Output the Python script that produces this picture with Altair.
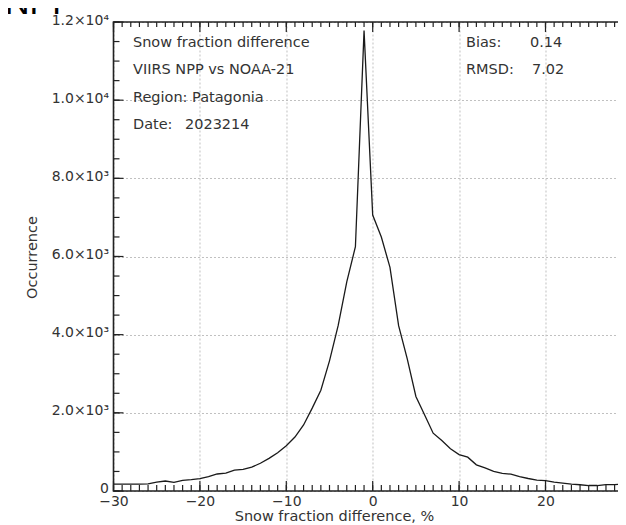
import altair as alt
import pandas as pd

# ---- data ----
diff_pct = list(range(-30, 31))
occurrence = [
    175, 175, 175, 175, 180, 225, 255, 222, 270, 290,      # -30 .. -21
    315, 365, 435, 455, 535, 555, 610, 710, 835, 980,      # -20 .. -11
    1160, 1380, 1690, 2120, 2580, 3330, 4230, 5350, 6250, 11780,  # -10 .. -1
    7060,                                                  # 0
    6500, 5720, 4230, 3380, 2420, 1950, 1480, 1290, 1080, 930,    # 1 .. 10
    865, 670, 590, 500, 450, 430, 370, 320, 280, 265,      # 11 .. 20
    225, 200, 175, 160, 140, 140, 165, 165, 170, 170,      # 21 .. 30
]
x_major_ticks = list(range(-30, 31, 10))
x_minor_ticks = list(range(-30, 31, 1))
y_major_ticks = list(range(0, 12001, 2000))
y_minor_ticks = list(range(0, 12001, 500))

left_notes = ["Snow fraction difference", "VIIRS NPP vs NOAA-21", "Region: Patagonia", "Date:"]
date_value = "2023214"
stat_names = ["Bias:", "RMSD:"]
stat_values = ["0.14", "7.02"]
clipped_title = "NPP"

# ---- layout / style ----
W, H = 518.4, 469
FONT = "DejaVu Sans"
INK = "#222222"
TXT = "#333333"
FS = 14.5

xs = alt.Scale(domain=[-30, 30], nice=False, zero=False)
ys = alt.Scale(domain=[0, 12000], nice=False, zero=False)

df = pd.DataFrame({"d": diff_pct, "n": occurrence})

y_label_expr = (
    "datum.value == 0 ? '0' : (datum.value >= 10000 ? "
    "format(datum.value / 10000, '.1f') + '×10⁴' : "
    "format(datum.value / 1000, '.1f') + '×10³')"
)

x_axis = alt.Axis(
    values=x_major_ticks, grid=True, ticks=False, domain=False,
    gridDash=[2, 2], gridColor="#c0c0c0", gridWidth=1,
    labelFont=FONT, labelFontSize=14, labelColor=TXT, labelPadding=4,
    labelFlush=False, labelOverlap=False, labelBound=False,
    title="Snow fraction difference, %", titleFont=FONT, titleFontSize=FS,
    titleFontWeight="normal", titleColor=TXT,
    titleX=220.5, titleY=26, titleBaseline="middle", titleAlign="center",
)
y_axis = alt.Axis(
    values=y_major_ticks, grid=True, ticks=False, domain=False,
    gridDash=[2, 2], gridColor="#c0c0c0", gridWidth=1,
    labelFont=FONT, labelFontSize=14, labelColor=TXT, labelPadding=5,
    labelOffset=-2,
    labelFlush=False, labelOverlap=False, labelBound=False,
    labelExpr=y_label_expr,
    title="Occurrence", titleFont=FONT, titleFontSize=FS,
    titleFontWeight="normal", titleColor=TXT,
    titleX=-80.5, titleY=235, titleBaseline="middle", titleAlign="center",
)

line = alt.Chart(df).mark_line(color="#1a1a1a", strokeWidth=1.3).encode(
    x=alt.X("d:Q", scale=xs, axis=x_axis, title="Snow fraction difference, %"),
    y=alt.Y("n:Q", scale=ys, axis=y_axis, title="Occurrence"),
)


def xticks(vals, length, top):
    d = pd.DataFrame({"d": vals})
    y0 = 0 if top else H
    y1 = length if top else H - length
    return alt.Chart(d).mark_rule(color=INK, strokeWidth=1.2).encode(
        x=alt.X("d:Q", scale=xs, axis=x_axis, title="Snow fraction difference, %"),
        y=alt.value(y0), y2=alt.value(y1),
    )


def yticks(vals, length, right):
    d = pd.DataFrame({"n": vals})
    x0 = W if right else 0
    x1 = W - length if right else length
    return alt.Chart(d).mark_rule(color=INK, strokeWidth=1.2).encode(
        y=alt.Y("n:Q", scale=ys, axis=y_axis, title="Occurrence"),
        x=alt.value(x0), x2=alt.value(x1),
    )


tick_layers = [
    xticks(x_minor_ticks, 6, False), xticks(x_major_ticks, 10, False),
    xticks(x_minor_ticks, 5, True), xticks(x_major_ticks, 10, True),
    yticks(y_minor_ticks, 6, False), yticks(y_major_ticks, 10, False),
    yticks(y_minor_ticks, 6, True), yticks(y_major_ticks, 11, True),
]

frame = alt.Chart(pd.DataFrame({"f": [0]})).mark_rect(
    fillOpacity=0, stroke=INK, strokeWidth=1.6
).encode(x=alt.value(0), x2=alt.value(W), y=alt.value(0), y2=alt.value(H))


def note(text, px, py, size=FS, font=FONT, baseline="middle", color=TXT):
    return alt.Chart(pd.DataFrame({"t": [text]})).mark_text(
        align="left", baseline=baseline, font=font, fontSize=size, color=color
    ).encode(x=alt.value(px), y=alt.value(py), text="t:N")


ROW0, ROWSTEP = 20.5, 27.6
note_layers = []
for i, t in enumerate(left_notes):
    note_layers.append(note(t, 19.5, ROW0 + ROWSTEP * i))
note_layers.append(note(date_value, 71.5, ROW0 + ROWSTEP * 3))
for i, t in enumerate(stat_names):
    note_layers.append(note(t, 352.5, ROW0 + ROWSTEP * i))
note_layers.append(note(stat_values[0], 416.5, ROW0))
note_layers.append(note(stat_values[1], 418.5, ROW0 + ROWSTEP))
note_layers.append(note(clipped_title, -108.5, -8, size=34,
                        font="Liberation Sans", baseline="alphabetic", color="#000000"))

chart = alt.layer(line, *tick_layers, frame, *note_layers).properties(
    width=W, height=H,
    padding={"left": 105.5, "top": 14, "right": -14, "bottom": 34},
    autosize=alt.AutoSizeParams(type="none"),
    background="white",
).configure_view(stroke=None)

chart.save("out.html", embed_options={"renderer": "svg", "actions": False})
